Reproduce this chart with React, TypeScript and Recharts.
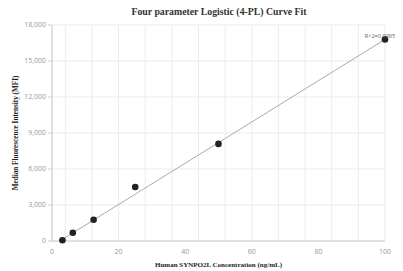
import { ComposedChart, Scatter, Line, XAxis, YAxis, CartesianGrid, ReferenceDot } from 'recharts';

const concentrations = [3.125, 6.25, 12.5, 25, 50, 100];
const mfiValues = [60, 690, 1770, 4500, 8090, 16800];

const fitX = [2.3, 12.5, 25, 50, 75, 100];
const fitY = [0, 1750, 3900, 8200, 12500, 16800];

const xTicks = [0, 20, 40, 60, 80, 100];
const yTicks = [0, 3000, 6000, 9000, 12000, 15000, 18000];
const xGridValues = Array.from({ length: 26 }, (_, i) => i * 4);

const rSquaredLabel = 'R^2=0.9985';

const points = concentrations.map((x, i) => ({ x, y: mfiValues[i] }));
const fitLine = fitX.map((x, i) => ({ x, y: fitY[i] }));

const tickStyle = { fontSize: 7, fill: '#999', fontFamily: 'Open Sans, sans-serif' };
const serifBold = { fontFamily: '"Liberation Serif", "Times New Roman", serif', fontWeight: 700 };

export default function App() {
  return (
    <div style={{ position: 'absolute', left: 0, top: 0, width: 403, height: 271, background: '#fff' }}>
      <div
        style={{
          position: 'absolute',
          left: 0,
          top: 6,
          width: 438,
          textAlign: 'center',
          fontSize: 9.8,
          color: '#333',
          ...serifBold
        }}
      >
        Four parameter Logistic (4-PL) Curve Fit
      </div>
      <ComposedChart width={403} height={271} margin={{ top: 25, right: 18, bottom: 0, left: 0 }}>
        <CartesianGrid stroke="#ebebf3" verticalValues={xGridValues} horizontalValues={yTicks} />
        <XAxis
          type="number"
          dataKey="x"
          domain={[0, 100]}
          ticks={xTicks}
          height={30}
          tick={tickStyle}
          tickLine={false}
          axisLine={{ stroke: '#ccc' }}
          tickMargin={2}
          label={{
            value: 'Human SYNPO2L Concentration (ng/mL)',
            position: 'insideBottom',
            offset: 4,
            style: { ...serifBold, fontSize: 7, fill: '#222' }
          }}
        />
        <YAxis
          type="number"
          dataKey="y"
          domain={[0, 18000]}
          ticks={yTicks}
          width={52}
          tick={tickStyle}
          tickSize={4}
          tickLine={{ stroke: '#ccc' }}
          axisLine={{ stroke: '#ccc' }}
          tickFormatter={(v: number) => v.toLocaleString('en-US')}
          label={{
            value: 'Median Fluorescence Intensity (MFI)',
            angle: -90,
            position: 'insideLeft',
            offset: 15,
            style: { ...serifBold, fontSize: 7.2, fill: '#222', textAnchor: 'middle' }
          }}
        />
        <Line
          data={fitLine}
          dataKey="y"
          type="monotone"
          stroke="#aaa"
          strokeWidth={1}
          dot={false}
          activeDot={false}
          isAnimationActive={false}
        />
        <Scatter data={points} dataKey="y" fill="#222" shape={(p: any) => <circle cx={p.cx} cy={p.cy} r={3.3} fill="#222" />} isAnimationActive={false} />
        <ReferenceDot
          x={concentrations[concentrations.length - 1]}
          y={mfiValues[mfiValues.length - 1]}
          r={0}
          stroke="none"
          label={{ value: rSquaredLabel, position: 'top', offset: 1, style: { fontSize: 5.6, fill: '#666', fontFamily: 'Open Sans, sans-serif', textAnchor: 'middle' }, dx: -5 }}
        />
      </ComposedChart>
    </div>
  );
}
